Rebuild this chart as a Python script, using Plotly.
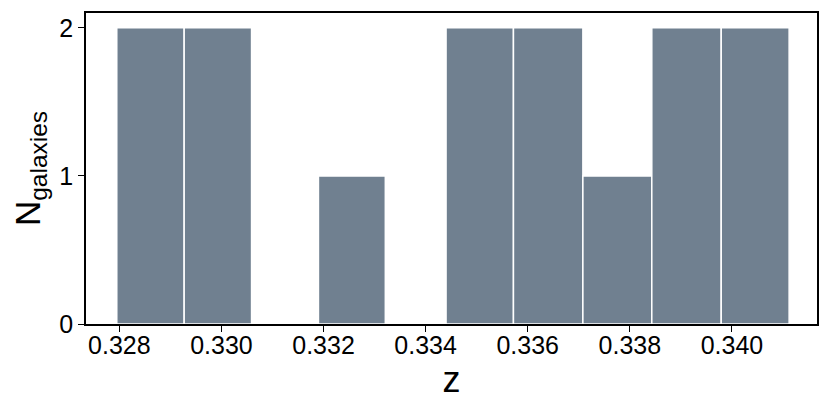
import plotly.graph_objects as go

# redshift bins (left / right edges) and galaxy counts
bin_lo = [0.32795, 0.32927, 0.33190, 0.33440, 0.33572, 0.33708, 0.33843, 0.33979]
bin_hi = [0.32927, 0.33059, 0.33321, 0.33572, 0.33708, 0.33843, 0.33979, 0.34112]
counts = [2, 2, 1, 2, 2, 1, 2, 2]

x_ticks = [0.328, 0.330, 0.332, 0.334, 0.336, 0.338, 0.340]
y_ticks = [0, 1, 2]

centers = [(a + b) / 2 for a, b in zip(bin_lo, bin_hi)]
widths = [b - a for a, b in zip(bin_lo, bin_hi)]

fig = go.Figure()
fig.add_trace(go.Bar(x=centers, y=counts, width=widths,
                     marker=dict(color="#708090", line=dict(color="white", width=1.5))))

font = "Helvetica Neue, Helvetica, Liberation Sans, Arial, sans-serif"
fig.update_layout(
    width=830, height=419,
    margin=dict(l=78, r=21, t=5, b=103),
    plot_bgcolor="white", paper_bgcolor="white",
    font=dict(family=font, color="black", size=24),
    showlegend=False,
)
fig.update_xaxes(range=[0.327347, 0.341666], tickvals=x_ticks,
                 ticktext=[f"{v:.3f}" for v in x_ticks],
                 showline=True, mirror=True, linecolor="black", linewidth=1.5,
                 ticks="outside", ticklen=6, tickcolor="black", showgrid=False,
                 zeroline=False, tickfont=dict(size=25), automargin=False,
                 ticklabelstandoff=-8,
                 title=dict(text="z", font=dict(size=36), standoff=4))
fig.update_yaxes(range=[0, 2.1], tickvals=y_ticks,
                 showline=True, mirror=True, linecolor="black", linewidth=1.5,
                 ticks="outside", ticklen=6, tickcolor="black", showgrid=False,
                 zeroline=False, tickfont=dict(size=25), automargin=False,
                 title=dict(text="N<sub>galaxies</sub>", font=dict(size=35), standoff=10))

fig.write_html("out.html")
